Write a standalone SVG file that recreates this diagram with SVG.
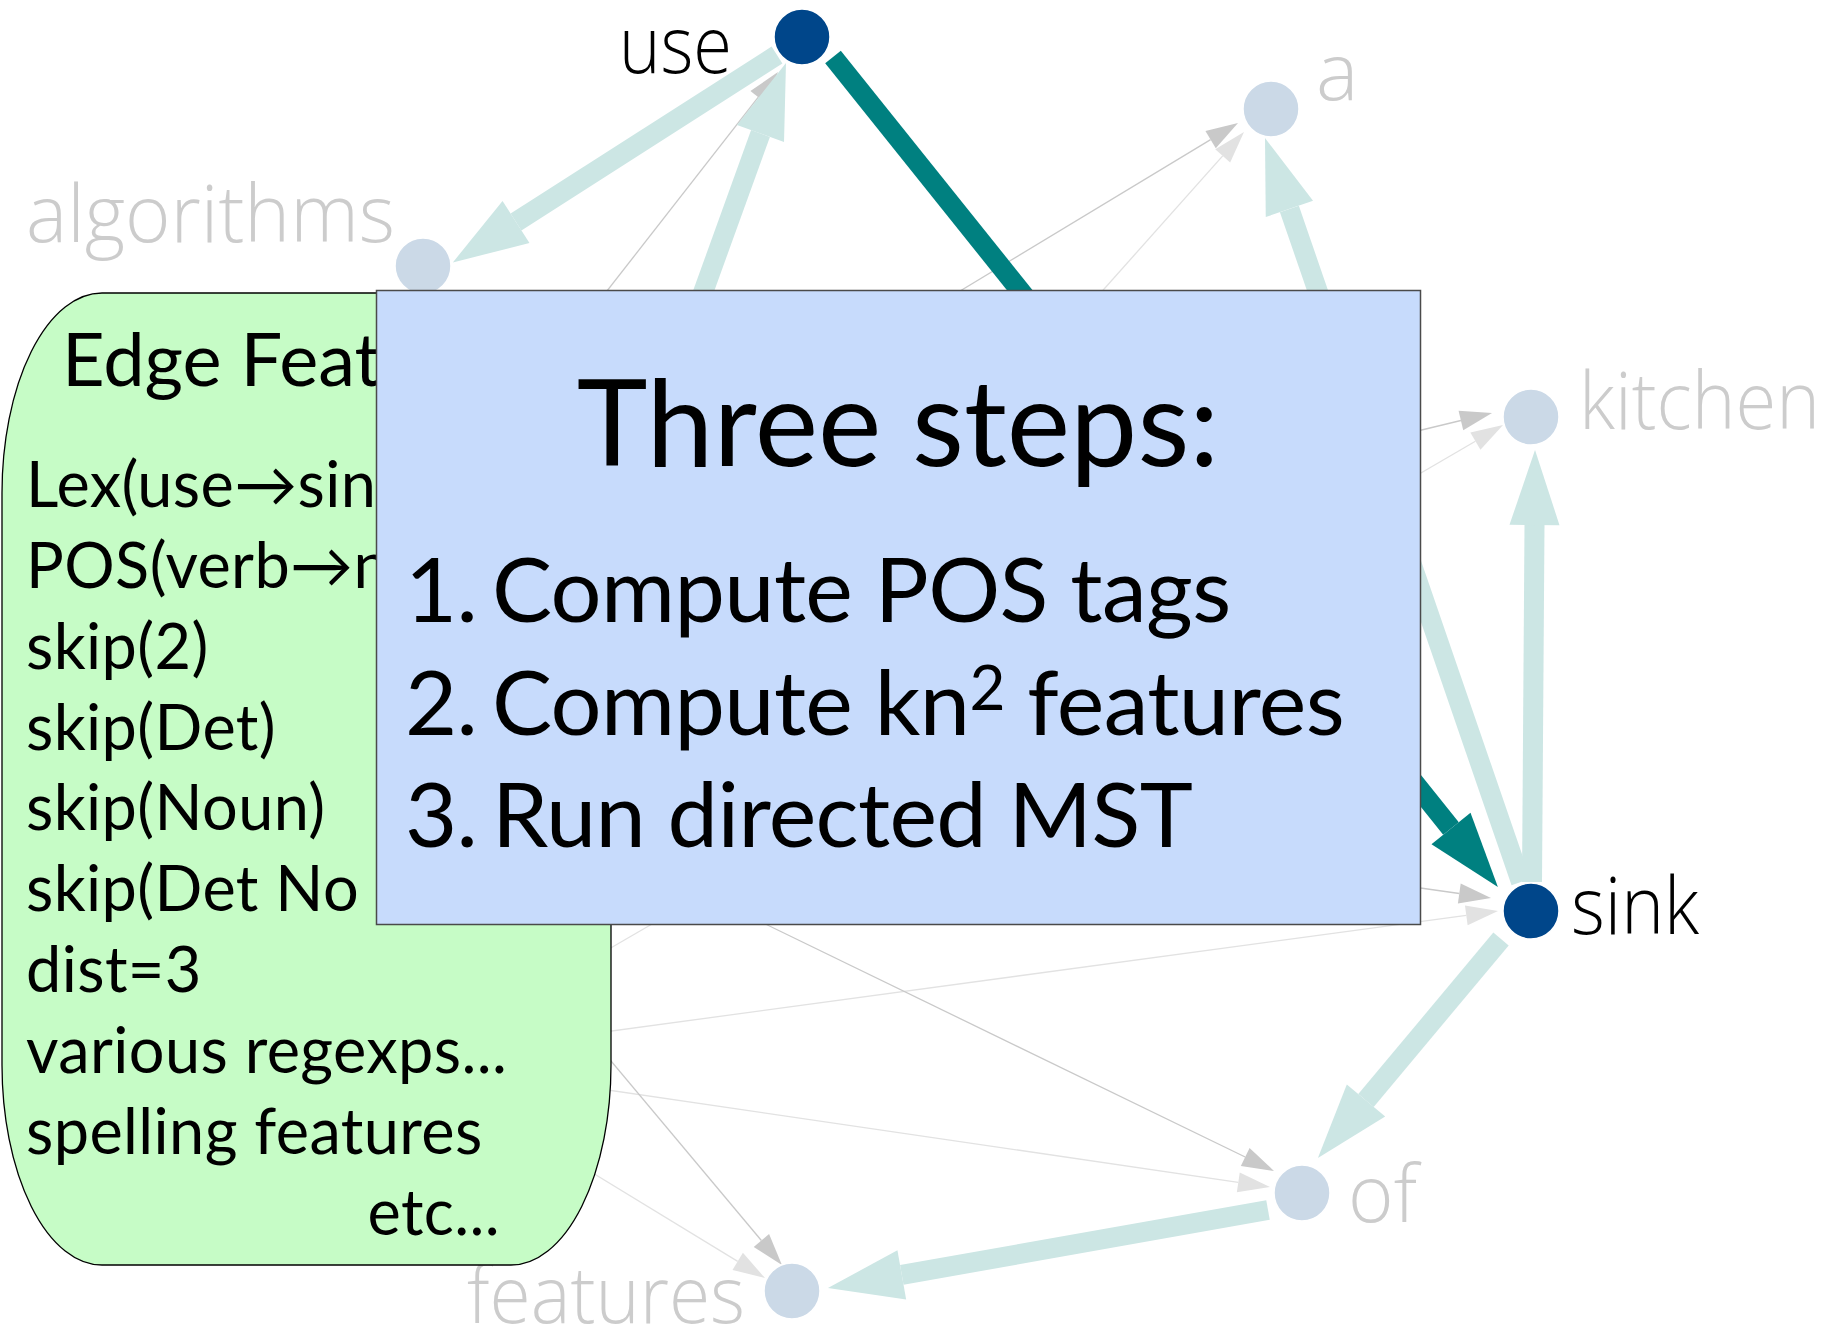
<svg xmlns="http://www.w3.org/2000/svg" width="1831" height="1330" viewBox="0 0 1831 1330">
  <style>
    .arc-strong { stroke: #CCE6E4; stroke-width: 20; fill: none; }
    .arc-best { stroke: #008080; stroke-width: 20; fill: none; }
    .arc-faint { stroke: #C9C9C9; stroke-width: 1.3; fill: none; }
    .arc-fainter { stroke: #E2E2E2; stroke-width: 1.3; fill: none; }
    .node-on { fill: #00468A; stroke: #ffffff; stroke-width: 1.5; }
    .node-off { fill: #CBD9E7; stroke: #ffffff; stroke-width: 1.5; }
    .word { font-family: "Open Sans", "Noto Sans", sans-serif; font-weight: 300; font-size: 80px; }
    .word-on { fill: #000000; }
    .word-off { fill: #CCCCCC; }
    .panel-text { font-family: Lato, "Open Sans", sans-serif; fill: #000000; }
  </style>
  <defs>
    <marker id="head-strong" markerUnits="userSpaceOnUse" markerWidth="80" markerHeight="56" viewBox="0 -28 80 56" refX="0" refY="0" orient="auto" overflow="visible">
      <path d="M0,-25 L75,0 L0,25 z" fill="#CCE6E4"/>
    </marker>
    <marker id="head-best" markerUnits="userSpaceOnUse" markerWidth="80" markerHeight="56" viewBox="0 -28 80 56" refX="0" refY="0" orient="auto" overflow="visible">
      <path d="M0,-25 L75,0 L0,25 z" fill="#008080"/>
    </marker>
    <marker id="head-faint" markerUnits="userSpaceOnUse" markerWidth="34" markerHeight="24" viewBox="0 -12 34 24" refX="0" refY="0" orient="auto" overflow="visible">
      <path d="M0,-10 L32,0 L0,10 z" fill="#C9C9C9"/>
    </marker>
    <marker id="head-fainter" markerUnits="userSpaceOnUse" markerWidth="34" markerHeight="24" viewBox="0 -12 34 24" refX="0" refY="0" orient="auto" overflow="visible">
      <path d="M0,-10 L32,0 L0,10 z" fill="#E2E2E2"/>
    </marker>
  </defs>

  <!-- candidate arcs of the dependency graph -->
  <g id="connectors">
    <!-- low-scoring arcs -->
    <line class="arc-faint" x1="571" y1="337" x2="758.3" y2="97.2" marker-end="url(#head-faint)"/>
    <line class="arc-faint" x1="922" y1="314" x2="1210.6" y2="139.6" marker-end="url(#head-faint)"/>
    <line class="arc-fainter" x1="1072" y1="325" x2="1222.7" y2="155.9" marker-end="url(#head-fainter)"/>
    <line class="arc-faint" x1="1372" y1="442" x2="1460.9" y2="420.5" marker-end="url(#head-faint)"/>
    <line class="arc-fainter" x1="1378" y1="498" x2="1475.4" y2="441.2" marker-end="url(#head-fainter)"/>
    <line class="arc-faint" x1="1371" y1="881" x2="1459.3" y2="893.5" marker-end="url(#head-faint)"/>
    <line class="arc-fainter" x1="560" y1="1038" x2="1466.3" y2="915.3" marker-end="url(#head-fainter)"/>
    <line class="arc-faint" x1="720" y1="902" x2="1245.2" y2="1157" marker-end="url(#head-faint)"/>
    <line class="arc-fainter" x1="560" y1="1083" x2="1238.3" y2="1182.3" marker-end="url(#head-fainter)"/>
    <line class="arc-faint" x1="570" y1="1012" x2="761.4" y2="1240.5" marker-end="url(#head-faint)"/>
    <line class="arc-fainter" x1="560" y1="1153" x2="737.7" y2="1261.4" marker-end="url(#head-fainter)"/>
    <line class="arc-fainter" x1="590" y1="960" x2="690" y2="902"/>
    <!-- high-scoring arcs -->
    <line class="arc-strong" x1="777" y1="55" x2="516" y2="222" marker-end="url(#head-strong)"/>
    <line class="arc-strong" x1="670" y1="384" x2="760.5" y2="133.5" marker-end="url(#head-strong)"/>
    <line class="arc-strong" x1="1521" y1="882" x2="1289.4" y2="208.9" marker-end="url(#head-strong)"/>
    <line class="arc-strong" x1="1532" y1="882" x2="1534.5" y2="525" marker-end="url(#head-strong)"/>
    <line class="arc-strong" x1="1501" y1="939" x2="1366" y2="1100.5" marker-end="url(#head-strong)"/>
    <line class="arc-strong" x1="1268" y1="1210" x2="901.8" y2="1274.9" marker-end="url(#head-strong)"/>
    <!-- arc chosen by the tree -->
    <line class="arc-best" x1="833" y1="57" x2="1451" y2="828.5" marker-end="url(#head-best)"/>
  </g>

  <!-- words of the sentence -->
  <g id="node-use">
    <circle class="node-on" cx="802" cy="37" r="28"/>
    <text class="word word-on" x="619" y="73" textLength="113" lengthAdjust="spacingAndGlyphs">use</text>
  </g>
  <g id="node-a">
    <circle class="node-off" cx="1271" cy="109" r="28"/>
    <text class="word word-off" x="1316" y="100">a</text>
  </g>
  <g id="node-algorithms">
    <circle class="node-off" cx="423" cy="266" r="28"/>
    <text class="word word-off" x="26" y="242" textLength="369" lengthAdjust="spacingAndGlyphs">algorithms</text>
  </g>
  <g id="node-kitchen">
    <circle class="node-off" cx="1531" cy="417" r="28"/>
    <text class="word word-off" x="1579" y="429" textLength="241" lengthAdjust="spacingAndGlyphs">kitchen</text>
  </g>
  <g id="node-sink">
    <circle class="node-on" cx="1531" cy="911" r="28"/>
    <text class="word word-on" x="1571" y="934" textLength="128" lengthAdjust="spacingAndGlyphs">sink</text>
  </g>
  <g id="node-of">
    <circle class="node-off" cx="1302" cy="1193" r="28"/>
    <text class="word word-off" x="1348" y="1222" textLength="69" lengthAdjust="spacingAndGlyphs">of</text>
  </g>
  <g id="node-features">
    <circle class="node-off" cx="792" cy="1291" r="28"/>
    <text class="word word-off" x="467" y="1323" textLength="278" lengthAdjust="spacingAndGlyphs">features</text>
  </g>

  <!-- feature list panel -->
  <g id="edge-features">
    <rect x="2" y="293" width="609" height="972" rx="100" ry="200" fill="#C6FCC6" stroke="#000000" stroke-width="1.3"/>
    <g class="panel-text" font-size="63" letter-spacing="0.4">
      <text x="62" y="386" font-size="74" letter-spacing="0">Edge Feat</text>
      <text x="26" y="507">Lex(use→sin</text>
      <text x="26" y="588">POS(verb→n</text>
      <text x="26" y="669">skip(2)</text>
      <text x="26" y="750">skip(Det)</text>
      <text x="26" y="830">skip(Noun)</text>
      <text x="26" y="911">skip(Det No</text>
      <text x="26" y="992">dist=3</text>
      <text x="26" y="1073">various regexps...</text>
      <text x="26" y="1154">spelling features</text>
      <text x="500" y="1235" text-anchor="end">etc...</text>
    </g>
  </g>

  <!-- steps panel -->
  <g id="three-steps">
    <rect x="376.5" y="290.5" width="1044" height="634" fill="#C7DBFC" stroke="#4A4A4A" stroke-width="1.5"/>
    <g class="panel-text" font-size="90" letter-spacing="-0.6">
      <text x="898" y="466" font-size="120" letter-spacing="0" text-anchor="middle">Three steps:</text>
      <text y="622"><tspan x="405">1.</tspan><tspan x="492">Compute POS tags</tspan></text>
      <text y="735"><tspan x="405">2.</tspan><tspan x="492">Compute kn</tspan><tspan font-size="62" dy="-25">2</tspan><tspan dy="25"> features</tspan></text>
      <text y="847"><tspan x="405">3.</tspan><tspan x="492">Run directed MST</tspan></text>
    </g>
  </g>
</svg>
